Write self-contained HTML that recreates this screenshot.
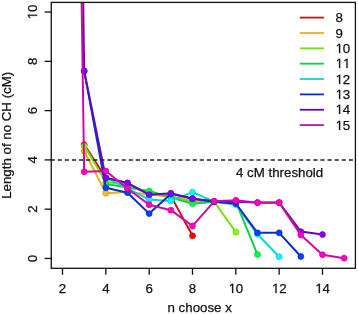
<!DOCTYPE html>
<html><head><meta charset="utf-8"><style>
html,body{margin:0;padding:0;background:#fff;width:358px;height:314px;overflow:hidden}
svg{display:block;will-change:transform}
.t{font-family:"Liberation Sans",sans-serif;font-size:13.3px;fill:#111;stroke:#111;stroke-width:0.25px}
</style></head><body>
<svg width="358" height="314" viewBox="0 0 358 314"><rect x="0" y="0" width="358" height="314" fill="#fff"/>
<defs><path id="one" fill="#111" stroke="#111" stroke-width="38" d="M555 0V1237L237 1010V1180L570 1409H736V0Z"/><clipPath id="c"><rect x="51.25" y="2.40" width="304.15" height="265.90"/></clipPath></defs>
<g clip-path="url(#c)">
<polyline points="84.17,144.61 105.83,177.88 127.50,183.05 149.17,194.39 170.84,195.86 192.50,235.78" fill="none" stroke="#D01010" stroke-width="2.0" stroke-linejoin="round"/>
<circle cx="84.17" cy="144.61" r="2.95" fill="#FF0000" stroke="#CC0000" stroke-width="0.7"/>
<circle cx="105.83" cy="177.88" r="2.95" fill="#FF0000" stroke="#CC0000" stroke-width="0.7"/>
<circle cx="127.50" cy="183.05" r="2.95" fill="#FF0000" stroke="#CC0000" stroke-width="0.7"/>
<circle cx="149.17" cy="194.39" r="2.95" fill="#FF0000" stroke="#CC0000" stroke-width="0.7"/>
<circle cx="170.84" cy="195.86" r="2.95" fill="#FF0000" stroke="#CC0000" stroke-width="0.7"/>
<circle cx="192.50" cy="235.78" r="2.95" fill="#FF0000" stroke="#CC0000" stroke-width="0.7"/>
<polyline points="84.17,151.02 105.83,193.15 127.50,191.92 149.17,194.39 170.84,196.85 192.50,200.55 214.17,201.78" fill="none" stroke="#E8B020" stroke-width="2.0" stroke-linejoin="round"/>
<circle cx="84.17" cy="151.02" r="2.95" fill="#FFBF00" stroke="#CC9800" stroke-width="0.7"/>
<circle cx="105.83" cy="193.15" r="2.95" fill="#FFBF00" stroke="#CC9800" stroke-width="0.7"/>
<circle cx="127.50" cy="191.92" r="2.95" fill="#FFBF00" stroke="#CC9800" stroke-width="0.7"/>
<circle cx="149.17" cy="194.39" r="2.95" fill="#FFBF00" stroke="#CC9800" stroke-width="0.7"/>
<circle cx="170.84" cy="196.85" r="2.95" fill="#FFBF00" stroke="#CC9800" stroke-width="0.7"/>
<circle cx="192.50" cy="200.55" r="2.95" fill="#FFBF00" stroke="#CC9800" stroke-width="0.7"/>
<circle cx="214.17" cy="201.78" r="2.95" fill="#FFBF00" stroke="#CC9800" stroke-width="0.7"/>
<polyline points="84.17,145.85 105.83,182.07 127.50,184.53 149.17,193.89 170.84,196.11 192.50,201.78 214.17,201.78 235.84,232.09" fill="none" stroke="#78E010" stroke-width="2.0" stroke-linejoin="round"/>
<circle cx="84.17" cy="145.85" r="2.95" fill="#80FF00" stroke="#66CC00" stroke-width="0.7"/>
<circle cx="105.83" cy="182.07" r="2.95" fill="#80FF00" stroke="#66CC00" stroke-width="0.7"/>
<circle cx="127.50" cy="184.53" r="2.95" fill="#80FF00" stroke="#66CC00" stroke-width="0.7"/>
<circle cx="149.17" cy="193.89" r="2.95" fill="#80FF00" stroke="#66CC00" stroke-width="0.7"/>
<circle cx="170.84" cy="196.11" r="2.95" fill="#80FF00" stroke="#66CC00" stroke-width="0.7"/>
<circle cx="192.50" cy="201.78" r="2.95" fill="#80FF00" stroke="#66CC00" stroke-width="0.7"/>
<circle cx="214.17" cy="201.78" r="2.95" fill="#80FF00" stroke="#66CC00" stroke-width="0.7"/>
<circle cx="235.84" cy="232.09" r="2.95" fill="#80FF00" stroke="#66CC00" stroke-width="0.7"/>
<polyline points="105.83,184.04 127.50,187.49 149.17,190.94 170.84,197.34 192.50,203.75 214.17,201.78 235.84,201.78 257.50,254.51" fill="none" stroke="#10D040" stroke-width="2.0" stroke-linejoin="round"/>
<circle cx="105.83" cy="184.04" r="2.95" fill="#00FF40" stroke="#00CC33" stroke-width="0.7"/>
<circle cx="127.50" cy="187.49" r="2.95" fill="#00FF40" stroke="#00CC33" stroke-width="0.7"/>
<circle cx="149.17" cy="190.94" r="2.95" fill="#00FF40" stroke="#00CC33" stroke-width="0.7"/>
<circle cx="170.84" cy="197.34" r="2.95" fill="#00FF40" stroke="#00CC33" stroke-width="0.7"/>
<circle cx="192.50" cy="203.75" r="2.95" fill="#00FF40" stroke="#00CC33" stroke-width="0.7"/>
<circle cx="214.17" cy="201.78" r="2.95" fill="#00FF40" stroke="#00CC33" stroke-width="0.7"/>
<circle cx="235.84" cy="201.78" r="2.95" fill="#00FF40" stroke="#00CC33" stroke-width="0.7"/>
<circle cx="257.50" cy="254.51" r="2.95" fill="#00FF40" stroke="#00CC33" stroke-width="0.7"/>
<polyline points="105.83,177.88 127.50,188.47 149.17,199.56 170.84,201.04 192.50,192.17 214.17,201.78 235.84,204.73 257.50,234.30 279.17,256.73" fill="none" stroke="#10D4D4" stroke-width="2.0" stroke-linejoin="round"/>
<circle cx="105.83" cy="177.88" r="2.95" fill="#00FFFF" stroke="#00CCCC" stroke-width="0.7"/>
<circle cx="127.50" cy="188.47" r="2.95" fill="#00FFFF" stroke="#00CCCC" stroke-width="0.7"/>
<circle cx="149.17" cy="199.56" r="2.95" fill="#00FFFF" stroke="#00CCCC" stroke-width="0.7"/>
<circle cx="170.84" cy="201.04" r="2.95" fill="#00FFFF" stroke="#00CCCC" stroke-width="0.7"/>
<circle cx="192.50" cy="192.17" r="2.95" fill="#00FFFF" stroke="#00CCCC" stroke-width="0.7"/>
<circle cx="214.17" cy="201.78" r="2.95" fill="#00FFFF" stroke="#00CCCC" stroke-width="0.7"/>
<circle cx="235.84" cy="204.73" r="2.95" fill="#00FFFF" stroke="#00CCCC" stroke-width="0.7"/>
<circle cx="257.50" cy="234.30" r="2.95" fill="#00FFFF" stroke="#00CCCC" stroke-width="0.7"/>
<circle cx="279.17" cy="256.73" r="2.95" fill="#00FFFF" stroke="#00CCCC" stroke-width="0.7"/>
<polyline points="84.17,70.94 105.83,187.73 127.50,192.66 149.17,213.61 170.84,193.89 192.50,198.57 214.17,201.78 235.84,203.50 257.50,232.82 279.17,232.82 300.84,256.48" fill="none" stroke="#0830C0" stroke-width="2.0" stroke-linejoin="round"/>
<circle cx="84.17" cy="70.94" r="2.95" fill="#0040FF" stroke="#0033CC" stroke-width="0.7"/>
<circle cx="105.83" cy="187.73" r="2.95" fill="#0040FF" stroke="#0033CC" stroke-width="0.7"/>
<circle cx="127.50" cy="192.66" r="2.95" fill="#0040FF" stroke="#0033CC" stroke-width="0.7"/>
<circle cx="149.17" cy="213.61" r="2.95" fill="#0040FF" stroke="#0033CC" stroke-width="0.7"/>
<circle cx="170.84" cy="193.89" r="2.95" fill="#0040FF" stroke="#0033CC" stroke-width="0.7"/>
<circle cx="192.50" cy="198.57" r="2.95" fill="#0040FF" stroke="#0033CC" stroke-width="0.7"/>
<circle cx="214.17" cy="201.78" r="2.95" fill="#0040FF" stroke="#0033CC" stroke-width="0.7"/>
<circle cx="235.84" cy="203.50" r="2.95" fill="#0040FF" stroke="#0033CC" stroke-width="0.7"/>
<circle cx="257.50" cy="232.82" r="2.95" fill="#0040FF" stroke="#0033CC" stroke-width="0.7"/>
<circle cx="279.17" cy="232.82" r="2.95" fill="#0040FF" stroke="#0033CC" stroke-width="0.7"/>
<circle cx="300.84" cy="256.48" r="2.95" fill="#0040FF" stroke="#0033CC" stroke-width="0.7"/>
<polyline points="62.50,-1466.35 84.17,70.94 105.83,177.88 127.50,183.05 149.17,194.63 170.84,193.15 192.50,198.82 214.17,201.29 235.84,201.78 257.50,202.52 279.17,202.52 300.84,231.59 322.50,234.55" fill="none" stroke="#6008C0" stroke-width="2.0" stroke-linejoin="round"/>
<circle cx="84.17" cy="70.94" r="2.95" fill="#8000FF" stroke="#6600CC" stroke-width="0.7"/>
<circle cx="105.83" cy="177.88" r="2.95" fill="#8000FF" stroke="#6600CC" stroke-width="0.7"/>
<circle cx="127.50" cy="183.05" r="2.95" fill="#8000FF" stroke="#6600CC" stroke-width="0.7"/>
<circle cx="149.17" cy="194.63" r="2.95" fill="#8000FF" stroke="#6600CC" stroke-width="0.7"/>
<circle cx="170.84" cy="193.15" r="2.95" fill="#8000FF" stroke="#6600CC" stroke-width="0.7"/>
<circle cx="192.50" cy="198.82" r="2.95" fill="#8000FF" stroke="#6600CC" stroke-width="0.7"/>
<circle cx="214.17" cy="201.29" r="2.95" fill="#8000FF" stroke="#6600CC" stroke-width="0.7"/>
<circle cx="235.84" cy="201.78" r="2.95" fill="#8000FF" stroke="#6600CC" stroke-width="0.7"/>
<circle cx="257.50" cy="202.52" r="2.95" fill="#8000FF" stroke="#6600CC" stroke-width="0.7"/>
<circle cx="279.17" cy="202.52" r="2.95" fill="#8000FF" stroke="#6600CC" stroke-width="0.7"/>
<circle cx="300.84" cy="231.59" r="2.95" fill="#8000FF" stroke="#6600CC" stroke-width="0.7"/>
<circle cx="322.50" cy="234.55" r="2.95" fill="#8000FF" stroke="#6600CC" stroke-width="0.7"/>
<polyline points="62.50,-1269.23 84.17,171.72 105.83,170.98 127.50,188.47 149.17,204.73 170.84,210.16 192.50,225.93 214.17,201.29 235.84,200.30 257.50,202.76 279.17,202.76 300.84,235.04 322.50,254.75 344.17,258.20" fill="none" stroke="#D008A8" stroke-width="2.0" stroke-linejoin="round"/>
<circle cx="84.17" cy="171.72" r="2.95" fill="#FF00BF" stroke="#CC0098" stroke-width="0.7"/>
<circle cx="105.83" cy="170.98" r="2.95" fill="#FF00BF" stroke="#CC0098" stroke-width="0.7"/>
<circle cx="127.50" cy="188.47" r="2.95" fill="#FF00BF" stroke="#CC0098" stroke-width="0.7"/>
<circle cx="149.17" cy="204.73" r="2.95" fill="#FF00BF" stroke="#CC0098" stroke-width="0.7"/>
<circle cx="170.84" cy="210.16" r="2.95" fill="#FF00BF" stroke="#CC0098" stroke-width="0.7"/>
<circle cx="192.50" cy="225.93" r="2.95" fill="#FF00BF" stroke="#CC0098" stroke-width="0.7"/>
<circle cx="214.17" cy="201.29" r="2.95" fill="#FF00BF" stroke="#CC0098" stroke-width="0.7"/>
<circle cx="235.84" cy="200.30" r="2.95" fill="#FF00BF" stroke="#CC0098" stroke-width="0.7"/>
<circle cx="257.50" cy="202.76" r="2.95" fill="#FF00BF" stroke="#CC0098" stroke-width="0.7"/>
<circle cx="279.17" cy="202.76" r="2.95" fill="#FF00BF" stroke="#CC0098" stroke-width="0.7"/>
<circle cx="300.84" cy="235.04" r="2.95" fill="#FF00BF" stroke="#CC0098" stroke-width="0.7"/>
<circle cx="322.50" cy="254.75" r="2.95" fill="#FF00BF" stroke="#CC0098" stroke-width="0.7"/>
<circle cx="344.17" cy="258.20" r="2.95" fill="#FF00BF" stroke="#CC0098" stroke-width="0.7"/>
</g>
<line x1="51.25" x2="355.4" y1="159.89" y2="159.89" stroke="#222" stroke-width="1.5" stroke-dasharray="4.2 2.9" stroke-dashoffset="0.65"/>
<text x="236" y="176.7" class="t">4 cM threshold</text>
<rect x="51.25" y="2.4" width="304.15" height="265.90" fill="none" stroke="#111" stroke-width="1.3"/>
<line x1="62.50" x2="62.50" y1="268.3" y2="274.8" stroke="#111" stroke-width="1.3"/>
<g transform="translate(62.50 293.00)"><text x="-3.70" y="0" class="t">2</text></g>
<line x1="105.83" x2="105.83" y1="268.3" y2="274.8" stroke="#111" stroke-width="1.3"/>
<g transform="translate(105.83 293.00)"><text x="-3.70" y="0" class="t">4</text></g>
<line x1="149.17" x2="149.17" y1="268.3" y2="274.8" stroke="#111" stroke-width="1.3"/>
<g transform="translate(149.17 293.00)"><text x="-3.70" y="0" class="t">6</text></g>
<line x1="192.50" x2="192.50" y1="268.3" y2="274.8" stroke="#111" stroke-width="1.3"/>
<g transform="translate(192.50 293.00)"><text x="-3.70" y="0" class="t">8</text></g>
<line x1="235.84" x2="235.84" y1="268.3" y2="274.8" stroke="#111" stroke-width="1.3"/>
<g transform="translate(235.84 293.00)"><use href="#one" transform="translate(-7.40 0) scale(0.006494 -0.006494)"/><text x="0.00" y="0" class="t">0</text></g>
<line x1="279.17" x2="279.17" y1="268.3" y2="274.8" stroke="#111" stroke-width="1.3"/>
<g transform="translate(279.17 293.00)"><use href="#one" transform="translate(-7.40 0) scale(0.006494 -0.006494)"/><text x="0.00" y="0" class="t">2</text></g>
<line x1="322.50" x2="322.50" y1="268.3" y2="274.8" stroke="#111" stroke-width="1.3"/>
<g transform="translate(322.50 293.00)"><use href="#one" transform="translate(-7.40 0) scale(0.006494 -0.006494)"/><text x="0.00" y="0" class="t">4</text></g>
<line x1="44.6" x2="51.25" y1="258.45" y2="258.45" stroke="#111" stroke-width="1.3"/>
<g transform="translate(37.00 258.45) rotate(-90)"><text x="-3.70" y="0" class="t">0</text></g>
<line x1="44.6" x2="51.25" y1="209.17" y2="209.17" stroke="#111" stroke-width="1.3"/>
<g transform="translate(37.00 209.17) rotate(-90)"><text x="-3.70" y="0" class="t">2</text></g>
<line x1="44.6" x2="51.25" y1="159.89" y2="159.89" stroke="#111" stroke-width="1.3"/>
<g transform="translate(37.00 159.89) rotate(-90)"><text x="-3.70" y="0" class="t">4</text></g>
<line x1="44.6" x2="51.25" y1="110.61" y2="110.61" stroke="#111" stroke-width="1.3"/>
<g transform="translate(37.00 110.61) rotate(-90)"><text x="-3.70" y="0" class="t">6</text></g>
<line x1="44.6" x2="51.25" y1="61.33" y2="61.33" stroke="#111" stroke-width="1.3"/>
<g transform="translate(37.00 61.33) rotate(-90)"><text x="-3.70" y="0" class="t">8</text></g>
<line x1="44.6" x2="51.25" y1="12.05" y2="12.05" stroke="#111" stroke-width="1.3"/>
<g transform="translate(37.00 12.05) rotate(-90)"><use href="#one" transform="translate(-7.40 0) scale(0.006494 -0.006494)"/><text x="0.00" y="0" class="t">0</text></g>
<text x="167.5" y="311.7" class="t">n choose x</text>
<text transform="translate(11 135.3) rotate(-90)" class="t" text-anchor="middle">Length of no CH (cM)</text>
<line x1="299.8" x2="323.9" y1="17.60" y2="17.60" stroke="#D01010" stroke-width="1.8"/>
<g transform="translate(335.40 22.00)"><text x="0.00" y="0" class="t">8</text></g>
<line x1="299.8" x2="323.9" y1="32.96" y2="32.96" stroke="#E8B020" stroke-width="1.8"/>
<g transform="translate(335.40 38.00)"><text x="0.00" y="0" class="t">9</text></g>
<line x1="299.8" x2="323.9" y1="48.32" y2="48.32" stroke="#78E010" stroke-width="1.8"/>
<g transform="translate(335.40 53.00)"><use href="#one" transform="translate(0.00 0) scale(0.006494 -0.006494)"/><text x="7.40" y="0" class="t">0</text></g>
<line x1="299.8" x2="323.9" y1="63.68" y2="63.68" stroke="#10D040" stroke-width="1.8"/>
<g transform="translate(335.40 68.00)"><use href="#one" transform="translate(0.00 0) scale(0.006494 -0.006494)"/><use href="#one" transform="translate(7.40 0) scale(0.006494 -0.006494)"/></g>
<line x1="299.8" x2="323.9" y1="79.04" y2="79.04" stroke="#10D4D4" stroke-width="1.8"/>
<g transform="translate(335.40 84.00)"><use href="#one" transform="translate(0.00 0) scale(0.006494 -0.006494)"/><text x="7.40" y="0" class="t">2</text></g>
<line x1="299.8" x2="323.9" y1="94.40" y2="94.40" stroke="#0830C0" stroke-width="1.8"/>
<g transform="translate(335.40 99.00)"><use href="#one" transform="translate(0.00 0) scale(0.006494 -0.006494)"/><text x="7.40" y="0" class="t">3</text></g>
<line x1="299.8" x2="323.9" y1="109.76" y2="109.76" stroke="#6008C0" stroke-width="1.8"/>
<g transform="translate(335.40 114.00)"><use href="#one" transform="translate(0.00 0) scale(0.006494 -0.006494)"/><text x="7.40" y="0" class="t">4</text></g>
<line x1="299.8" x2="323.9" y1="125.12" y2="125.12" stroke="#D008A8" stroke-width="1.8"/>
<g transform="translate(335.40 130.00)"><use href="#one" transform="translate(0.00 0) scale(0.006494 -0.006494)"/><text x="7.40" y="0" class="t">5</text></g></svg>
</body></html>
